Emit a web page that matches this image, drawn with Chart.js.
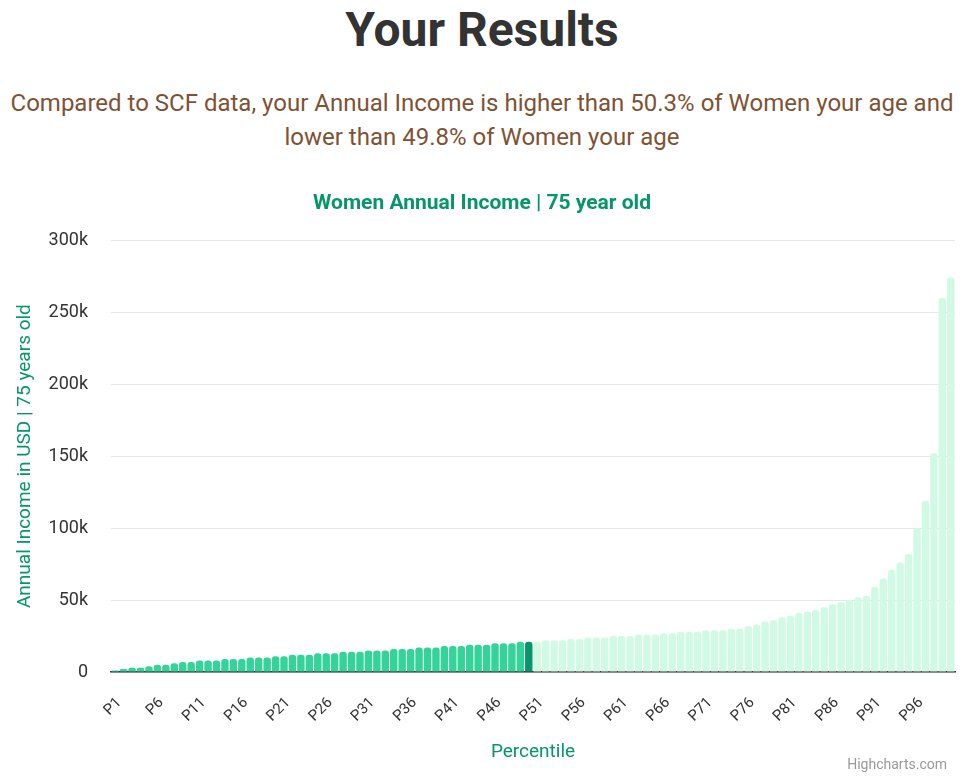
<!DOCTYPE html>
<html>
<head>
<meta charset="utf-8">
<script src="https://cdn.jsdelivr.net/npm/chart.js@4.4.0/dist/chart.umd.min.js"></script>
<style>
  html, body { margin: 0; padding: 0; background: #fff; }
  body { width: 964px; height: 778px; position: relative; overflow: hidden; font-family: Roboto, sans-serif; }
  h1 { position: absolute; top: 0; left: 0; width: 964px; margin: 0; text-align: center;
       font-size: 48px; font-weight: 700; color: #333; line-height: 60px; }
  .sub { position: absolute; top: 86px; left: 0; width: 964px; text-align: center;
         font-size: 24px; color: #7f5233; line-height: 34px; white-space: nowrap; }
  .wrap { position: absolute; left: 0; top: 180px; width: 964px; height: 598px; }
  .credit { position: absolute; right: 17px; top: 756px; font-size: 14px; color: #999; }
</style>
</head>
<body>
<h1>Your Results</h1>
<div class="sub">Compared to SCF data, your Annual Income is higher than 50.3% of Women your age and<br>lower than 49.8% of Women your age</div>
<div class="wrap"><canvas id="incomeChart"></canvas></div>
<div class="credit">Highcharts.com</div>
<script>
// 백분위 구간 (P1 ~ P100)
const percentiles = [
  'P1','P2','P3','P4','P5','P6','P7','P8','P9','P10',
  'P11','P12','P13','P14','P15','P16','P17','P18','P19','P20',
  'P21','P22','P23','P24','P25','P26','P27','P28','P29','P30',
  'P31','P32','P33','P34','P35','P36','P37','P38','P39','P40',
  'P41','P42','P43','P44','P45','P46','P47','P48','P49','P50',
  'P51','P52','P53','P54','P55','P56','P57','P58','P59','P60',
  'P61','P62','P63','P64','P65','P66','P67','P68','P69','P70',
  'P71','P72','P73','P74','P75','P76','P77','P78','P79','P80',
  'P81','P82','P83','P84','P85','P86','P87','P88','P89','P90',
  'P91','P92','P93','P94','P95','P96','P97','P98','P99','P100'
];

// 연간 소득 (USD)
const income = [
  1000, 2000, 3000, 3000, 4000, 5000, 5000, 6000, 7000, 7000,
  8000, 8000, 8000, 9000, 9000, 9000, 10000, 10000, 10000, 11000,
  11000, 12000, 12000, 12000, 13000, 13000, 13000, 14000, 14000, 14000,
  15000, 15000, 15000, 16000, 16000, 16000, 17000, 17000, 17000, 18000,
  18000, 18000, 19000, 19000, 19000, 20000, 20000, 20000, 21000, 21000,
  21000, 22000, 22000, 22000, 23000, 23000, 24000, 24000, 24000, 25000,
  25000, 25000, 26000, 26000, 26000, 27000, 27000, 28000, 28000, 28000,
  29000, 29000, 29000, 30000, 30000, 32000, 33000, 35000, 36000, 38000,
  39000, 41000, 42000, 43000, 45000, 47000, 48500, 50000, 52000, 53000,
  59000, 65000, 71000, 76000, 82000, 100000, 119000, 152000, 260000, 274000
];

// 사용자 위치 (P50)
const userIndex = 49;
const yTicks = [0, 50000, 100000, 150000, 200000, 250000, 300000];
const yTickLabels = ['0', '50k', '100k', '150k', '200k', '250k', '300k'];

const barColors = income.map((v, i) =>
  i < userIndex ? '#34d399' : (i === userIndex ? '#059669' : '#d1fae5'));

const green = '#059669';
const font = "Roboto, sans-serif";

const chart = new Chart(document.getElementById('incomeChart'), {
  type: 'bar',
  data: {
    labels: percentiles,
    datasets: [{
      data: income,
      backgroundColor: barColors,
      borderRadius: 3,
      borderSkipped: 'start',
      categoryPercentage: 1,
      barPercentage: 0.88
    }]
  },
  options: {
    responsive: true,
    maintainAspectRatio: false,
    animation: false,
    layout: { padding: { left: 0, right: 0, top: 0, bottom: 0 } },
    plugins: {
      legend: { display: false },
      tooltip: { enabled: false },
      title: {
        display: true,
        text: 'Women Annual Income | 75 year old',
        color: green,
        font: { size: 21, weight: 'bold', family: font },
        padding: { top: 11, bottom: 24 }
      }
    },
    scales: {
      x: {
        grid: { display: false, drawTicks: false },
        border: { display: true, color: '#333', width: 1.5 },
        ticks: {
          autoSkip: false,
          minRotation: 45,
          maxRotation: 45,
          padding: 22,
          labelOffset: 4,
          color: '#333',
          font: { size: 15, family: font },
          callback: function(value, index) {
            return index % 5 === 0 ? percentiles[index] : '';
          }
        },
        title: {
          display: true,
          text: 'Percentile',
          color: green,
          font: { size: 19, family: font },
          padding: { top: 0, bottom: 14 }
        },
        afterFit: function(scale) {
          scale.height = 106;
          scale.paddingLeft = 0;
          scale.paddingRight = 9;
        }
      },
      y: {
        min: 0,
        max: 300000,
        afterBuildTicks: function(scale) {
          scale.ticks = yTicks.map(v => ({ value: v }));
        },
        grid: { color: '#e6e6e6', lineWidth: 1, drawTicks: false },
        border: { display: false },
        ticks: {
          padding: 23,
          color: '#333',
          font: { size: 18, family: font },
          callback: function(value) {
            return yTickLabels[yTicks.indexOf(value)];
          }
        },
        title: {
          display: true,
          text: 'Annual Income in USD | 75 years old',
          color: green,
          font: { size: 19, family: font },
          padding: { top: 14, bottom: 0 }
        },
        afterFit: function(scale) { scale.width = 111; }
      }
    }
  }
});
</script>
</body>
</html>
